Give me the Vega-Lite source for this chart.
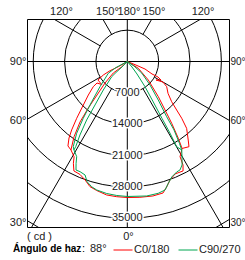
{
  "$schema": "https://vega.github.io/schema/vega-lite/v6.json",
  "width": 202,
  "height": 208,
  "autosize": {"type": "none"},
  "padding": {"left": 27, "top": 19, "right": 16, "bottom": 33},
  "background": "white",
  "config": {"view": {"stroke": "black", "strokeWidth": 1}, "font": "Liberation Sans"},
  "datasets": {
    "rings": [{"r": 7000}, {"r": 14000}, {"r": 21000}, {"r": 28000}, {"r": 35000}, {"r": 42000}],
    "spokes": [
      {"ang": 0, "r0": 0, "r1": 60000}, {"ang": 180, "r0": 0, "r1": 60000},
      {"ang": 90, "r0": 0, "r1": 60000}, {"ang": -90, "r0": 0, "r1": 60000},
      {"ang": 30, "r0": 7000, "r1": 60000}, {"ang": -30, "r0": 7000, "r1": 60000},
      {"ang": 60, "r0": 7000, "r1": 60000}, {"ang": -60, "r0": 7000, "r1": 60000},
      {"ang": 120, "r0": 7000, "r1": 60000}, {"ang": -120, "r0": 7000, "r1": 60000},
      {"ang": 150, "r0": 7000, "r1": 60000}, {"ang": -150, "r0": 7000, "r1": 60000}
    ],
    "ringlab": [
      {"ang": 0, "cd": 7000, "lab": "7000"}, {"ang": 0, "cd": 14000, "lab": "14000"},
      {"ang": 0, "cd": 21000, "lab": "21000"}, {"ang": 0, "cd": 28000, "lab": "28000"},
      {"ang": 0, "cd": 35000, "lab": "35000"}
    ],
    "curves": [
      {"s": "C0/180", "p": "a", "i": 0, "ang": 50, "cd": 0},
      {"s": "C0/180", "p": "a", "i": 2, "ang": 58.3, "cd": 2890},
      {"s": "C0/180", "p": "a", "i": 3, "ang": 48.6, "cd": 6250},
      {"s": "C0/180", "p": "a", "i": 4, "ang": 41.4, "cd": 10470},
      {"s": "C0/180", "p": "a", "i": 5, "ang": 37.9, "cd": 13710},
      {"s": "C0/180", "p": "a", "i": 6, "ang": 35.7, "cd": 16990},
      {"s": "C0/180", "p": "a", "i": 7, "ang": 33.6, "cd": 20580},
      {"s": "C0/180", "p": "a", "i": 8, "ang": 32.2, "cd": 22940},
      {"s": "C0/180", "p": "a", "i": 9, "ang": 29, "cd": 24290},
      {"s": "C0/180", "p": "a", "i": 10, "ang": 28.3, "cd": 26230},
      {"s": "C0/180", "p": "a", "i": 11, "ang": 27, "cd": 27420},
      {"s": "C0/180", "p": "a", "i": 12, "ang": 23, "cd": 27270},
      {"s": "C0/180", "p": "a", "i": 13, "ang": 19.8, "cd": 28120},
      {"s": "C0/180", "p": "a", "i": 14, "ang": 17.4, "cd": 29360},
      {"s": "C0/180", "p": "a", "i": 15, "ang": 15.2, "cd": 30410},
      {"s": "C0/180", "p": "a", "i": 16, "ang": 10.8, "cd": 30560},
      {"s": "C0/180", "p": "a", "i": 17, "ang": 5.3, "cd": 30440},
      {"s": "C0/180", "p": "a", "i": 18, "ang": 0, "cd": 30360},
      {"s": "C0/180", "p": "a", "i": 19, "ang": -4.5, "cd": 30270},
      {"s": "C0/180", "p": "a", "i": 20, "ang": -8.8, "cd": 30150},
      {"s": "C0/180", "p": "a", "i": 21, "ang": -13.3, "cd": 29600},
      {"s": "C0/180", "p": "a", "i": 22, "ang": -16.6, "cd": 29150},
      {"s": "C0/180", "p": "a", "i": 23, "ang": -19.6, "cd": 28080},
      {"s": "C0/180", "p": "a", "i": 24, "ang": -22.7, "cd": 27340},
      {"s": "C0/180", "p": "a", "i": 25, "ang": -26, "cd": 27180},
      {"s": "C0/180", "p": "a", "i": 26, "ang": -27.9, "cd": 25720},
      {"s": "C0/180", "p": "a", "i": 27, "ang": -29.2, "cd": 24350},
      {"s": "C0/180", "p": "a", "i": 28, "ang": -32.5, "cd": 23410},
      {"s": "C0/180", "p": "a", "i": 29, "ang": -35.3, "cd": 20570},
      {"s": "C0/180", "p": "a", "i": 30, "ang": -38, "cd": 17140},
      {"s": "C0/180", "p": "a", "i": 31, "ang": -40, "cd": 13540},
      {"s": "C0/180", "p": "a", "i": 32, "ang": -42.1, "cd": 10080},
      {"s": "C0/180", "p": "a", "i": 33, "ang": -46, "cd": 6910},
      {"s": "C0/180", "p": "a", "i": 34, "ang": -50.6, "cd": 4050},
      {"s": "C0/180", "p": "a", "i": 35, "ang": -46.5, "cd": 1780},
      {"s": "C0/180", "p": "a", "i": 36, "ang": -50, "cd": 0},
      {"s": "C0/180", "p": "b", "i": 0, "ang": 32.2, "cd": 22940},
      {"s": "C0/180", "p": "b", "i": 1, "ang": 35.9, "cd": 23480},
      {"s": "C0/180", "p": "b", "i": 2, "ang": 37.8, "cd": 22190},
      {"s": "C0/180", "p": "b", "i": 3, "ang": 41.6, "cd": 19950},
      {"s": "C0/180", "p": "b", "i": 4, "ang": 43.8, "cd": 17550},
      {"s": "C0/180", "p": "b", "i": 5, "ang": 45.5, "cd": 15450},
      {"s": "C0/180", "p": "b", "i": 6, "ang": 47.8, "cd": 13370},
      {"s": "C0/180", "p": "b", "i": 7, "ang": 52, "cd": 11530},
      {"s": "C0/180", "p": "b", "i": 8, "ang": 57.4, "cd": 10440},
      {"s": "C0/180", "p": "b", "i": 9, "ang": 60.1, "cd": 9190},
      {"s": "C0/180", "p": "b", "i": 10, "ang": 57.2, "cd": 7620},
      {"s": "C0/180", "p": "b", "i": 11, "ang": 61.2, "cd": 8580},
      {"s": "C0/180", "p": "b", "i": 12, "ang": 63.2, "cd": 7680},
      {"s": "C0/180", "p": "b", "i": 13, "ang": 63.2, "cd": 6180},
      {"s": "C0/180", "p": "b", "i": 14, "ang": 67, "cd": 4290},
      {"s": "C0/180", "p": "b", "i": 15, "ang": 67.6, "cd": 2340},
      {"s": "C0/180", "p": "b", "i": 16, "ang": 90, "cd": 0},
      {"s": "C0/180", "p": "b", "i": 17, "ang": -60, "cd": 2320},
      {"s": "C0/180", "p": "b", "i": 18, "ang": -62, "cd": 4370},
      {"s": "C0/180", "p": "b", "i": 19, "ang": -60.6, "cd": 6150},
      {"s": "C0/180", "p": "b", "i": 20, "ang": -57.7, "cd": 7740},
      {"s": "C0/180", "p": "b", "i": 21, "ang": -48, "cd": 7680},
      {"s": "C0/180", "p": "b", "i": 22, "ang": -54.6, "cd": 8290},
      {"s": "C0/180", "p": "b", "i": 23, "ang": -53.5, "cd": 9450},
      {"s": "C0/180", "p": "b", "i": 24, "ang": -49.3, "cd": 11470},
      {"s": "C0/180", "p": "b", "i": 25, "ang": -45.3, "cd": 13810},
      {"s": "C0/180", "p": "b", "i": 26, "ang": -41.7, "cd": 16980},
      {"s": "C0/180", "p": "b", "i": 27, "ang": -39.1, "cd": 19690},
      {"s": "C0/180", "p": "b", "i": 28, "ang": -37.3, "cd": 21470},
      {"s": "C0/180", "p": "b", "i": 29, "ang": -35.1, "cd": 23040},
      {"s": "C0/180", "p": "b", "i": 30, "ang": -32.5, "cd": 23410},
      {"s": "C90/270", "p": "a", "i": 0, "ang": 45, "cd": 0},
      {"s": "C90/270", "p": "a", "i": 1, "ang": 40.5, "cd": 1610},
      {"s": "C90/270", "p": "a", "i": 2, "ang": 37.8, "cd": 3530},
      {"s": "C90/270", "p": "a", "i": 3, "ang": 35.1, "cd": 6870},
      {"s": "C90/270", "p": "a", "i": 4, "ang": 32.7, "cd": 10740},
      {"s": "C90/270", "p": "a", "i": 5, "ang": 31.4, "cd": 14860},
      {"s": "C90/270", "p": "a", "i": 6, "ang": 30.8, "cd": 18590},
      {"s": "C90/270", "p": "a", "i": 7, "ang": 30.1, "cd": 21980},
      {"s": "C90/270", "p": "a", "i": 8, "ang": 31.6, "cd": 23190},
      {"s": "C90/270", "p": "a", "i": 9, "ang": 29.8, "cd": 24570},
      {"s": "C90/270", "p": "a", "i": 10, "ang": 27.9, "cd": 26130},
      {"s": "C90/270", "p": "a", "i": 11, "ang": 25.9, "cd": 26920},
      {"s": "C90/270", "p": "a", "i": 12, "ang": 24.1, "cd": 27010},
      {"s": "C90/270", "p": "a", "i": 13, "ang": 21.2, "cd": 27580},
      {"s": "C90/270", "p": "a", "i": 14, "ang": 18.6, "cd": 28690},
      {"s": "C90/270", "p": "a", "i": 15, "ang": 16.4, "cd": 29890},
      {"s": "C90/270", "p": "a", "i": 16, "ang": 13.2, "cd": 30220},
      {"s": "C90/270", "p": "a", "i": 17, "ang": 8.2, "cd": 30330},
      {"s": "C90/270", "p": "a", "i": 18, "ang": 0, "cd": 30130},
      {"s": "C90/270", "p": "a", "i": 19, "ang": -4.5, "cd": 30000},
      {"s": "C90/270", "p": "a", "i": 20, "ang": -8.9, "cd": 29820},
      {"s": "C90/270", "p": "a", "i": 21, "ang": -13.4, "cd": 29480},
      {"s": "C90/270", "p": "a", "i": 22, "ang": -15.9, "cd": 29060},
      {"s": "C90/270", "p": "a", "i": 23, "ang": -18.5, "cd": 28300},
      {"s": "C90/270", "p": "a", "i": 24, "ang": -20.4, "cd": 27030},
      {"s": "C90/270", "p": "a", "i": 25, "ang": -23.2, "cd": 26760},
      {"s": "C90/270", "p": "a", "i": 26, "ang": -25.3, "cd": 26790},
      {"s": "C90/270", "p": "a", "i": 27, "ang": -26.7, "cd": 25450},
      {"s": "C90/270", "p": "a", "i": 28, "ang": -28, "cd": 24060},
      {"s": "C90/270", "p": "a", "i": 29, "ang": -31.1, "cd": 23060},
      {"s": "C90/270", "p": "a", "i": 30, "ang": -31.2, "cd": 22230},
      {"s": "C90/270", "p": "a", "i": 31, "ang": -32.8, "cd": 19510},
      {"s": "C90/270", "p": "a", "i": 32, "ang": -34.8, "cd": 15890},
      {"s": "C90/270", "p": "a", "i": 33, "ang": -36.6, "cd": 12090},
      {"s": "C90/270", "p": "a", "i": 34, "ang": -40.1, "cd": 8320},
      {"s": "C90/270", "p": "a", "i": 35, "ang": -45.7, "cd": 4860},
      {"s": "C90/270", "p": "a", "i": 36, "ang": -45.8, "cd": 3520},
      {"s": "C90/270", "p": "a", "i": 37, "ang": -44, "cd": 1700},
      {"s": "C90/270", "p": "a", "i": 38, "ang": -45, "cd": 0},
      {"s": "C90/270", "p": "b", "i": 0, "ang": 31.6, "cd": 23190},
      {"s": "C90/270", "p": "b", "i": 1, "ang": 32.5, "cd": 21660},
      {"s": "C90/270", "p": "b", "i": 2, "ang": 34.3, "cd": 18500},
      {"s": "C90/270", "p": "b", "i": 3, "ang": 35.5, "cd": 15140},
      {"s": "C90/270", "p": "b", "i": 4, "ang": 38.8, "cd": 11030},
      {"s": "C90/270", "p": "b", "i": 5, "ang": 44, "cd": 7290},
      {"s": "C90/270", "p": "b", "i": 6, "ang": 51.4, "cd": 4110},
      {"s": "C90/270", "p": "b", "i": 7, "ang": 56, "cd": 1800},
      {"s": "C90/270", "p": "b", "i": 8, "ang": 90, "cd": 0},
      {"s": "C90/270", "p": "b", "i": 9, "ang": -62, "cd": 2860},
      {"s": "C90/270", "p": "b", "i": 10, "ang": -58.2, "cd": 4990},
      {"s": "C90/270", "p": "b", "i": 11, "ang": -47.3, "cd": 8290},
      {"s": "C90/270", "p": "b", "i": 12, "ang": -41.5, "cd": 11990},
      {"s": "C90/270", "p": "b", "i": 13, "ang": -37.8, "cd": 16040},
      {"s": "C90/270", "p": "b", "i": 14, "ang": -35.2, "cd": 19610},
      {"s": "C90/270", "p": "b", "i": 15, "ang": -32.4, "cd": 22510},
      {"s": "C90/270", "p": "b", "i": 16, "ang": -31.1, "cd": 23060}
    ]
  },
  "layer": [
    {
      "data": {"name": "rings"},
      "mark": {"type": "arc", "filled": false, "fill": null, "stroke": "black", "strokeWidth": 1, "theta": 0, "theta2": 6.2832, "clip": true},
      "encoding": {
        "x": {"datum": 0, "type": "quantitative", "scale": {"domain": [-22388, 22701], "nice": false, "zero": false}, "axis": null},
        "y": {"datum": 0, "type": "quantitative", "scale": {"domain": [-36942, 9487], "nice": false, "zero": false}, "axis": null},
        "radius": {"field": "r", "type": "quantitative", "stack": null, "scale": {"type": "linear", "domain": [0, 42000], "range": [0, 188.16], "zero": true}}
      }
    },
    {
      "data": {"name": "spokes"},
      "transform": [
        {"calculate": "datum.r0*sin(datum.ang*PI/180)", "as": "x0"},
        {"calculate": "-datum.r0*cos(datum.ang*PI/180)", "as": "y0"},
        {"calculate": "datum.r1*sin(datum.ang*PI/180)", "as": "x1"},
        {"calculate": "-datum.r1*cos(datum.ang*PI/180)", "as": "y1"}
      ],
      "mark": {"type": "rule", "color": "black", "strokeWidth": 1, "clip": true},
      "encoding": {
        "x": {"field": "x0", "type": "quantitative", "scale": {"domain": [-22388, 22701], "nice": false, "zero": false},
          "axis": {"orient": "top", "values": [-14799, -4531, 268, 5848, 16786], "labelExpr": "datum.value < -10000 ? '120°' : datum.value < -2000 ? '150°' : datum.value < 2000 ? '180°' : datum.value < 10000 ? '150°' : '120°'", "ticks": false, "tickSize": 0, "domain": false, "grid": false, "title": null, "labelPadding": 3, "labelFontSize": 11, "labelFont": "Liberation Sans", "labelColor": "#222", "labelFlush": false, "labelOverlap": false, "labelBound": false}},
        "y": {"field": "y0", "type": "quantitative", "scale": {"domain": [-36942, 9487], "nice": false, "zero": false},
          "axis": {"orient": "left", "values": [0, -13281, -36049], "labelExpr": "datum.value > -5000 ? '90°' : datum.value > -20000 ? '60°' : '30°'", "ticks": false, "tickSize": 0, "domain": false, "grid": false, "title": null, "labelPadding": 1, "labelFontSize": 11, "labelFont": "Liberation Sans", "labelColor": "#222", "labelFlush": false, "labelOverlap": false, "labelBound": false}},
        "x2": {"field": "x1"},
        "y2": {"field": "y1"}
      }
    },
    {
      "data": {"name": "ringlab"},
      "transform": [
        {"calculate": "datum.cd*sin(datum.ang*PI/180)", "as": "x"},
        {"calculate": "-datum.cd*cos(datum.ang*PI/180)", "as": "y"}
      ],
      "mark": {"type": "text", "fontSize": 11, "font": "Liberation Sans", "color": "white", "stroke": "white", "strokeWidth": 3, "baseline": "middle", "align": "center"},
      "encoding": {
        "x": {"field": "x", "type": "quantitative",
          "axis": {"orient": "bottom", "values": [-19710, 150], "labelExpr": "datum.value < -10000 ? '( cd )' : '0°'", "ticks": false, "tickSize": 0, "domain": false, "grid": false, "title": null, "labelPadding": 3, "labelFontSize": 11, "labelFont": "Liberation Sans", "labelColor": "#222", "labelFlush": false, "labelOverlap": false, "labelBound": false}},
        "y": {"field": "y", "type": "quantitative",
          "axis": {"orient": "right", "values": [0, -13281, -36049], "labelExpr": "datum.value > -5000 ? '90°' : datum.value > -20000 ? '60°' : '30°'", "ticks": false, "tickSize": 0, "domain": false, "grid": false, "title": null, "labelPadding": 1, "labelFontSize": 10, "labelFont": "Liberation Sans", "labelColor": "#222", "labelFlush": false, "labelOverlap": false, "labelBound": false}},
        "text": {"field": "lab"}
      }
    },
    {
      "data": {"name": "ringlab"},
      "transform": [
        {"calculate": "datum.cd*sin(datum.ang*PI/180)", "as": "x"},
        {"calculate": "-datum.cd*cos(datum.ang*PI/180)", "as": "y"}
      ],
      "mark": {"type": "text", "fontSize": 11, "font": "Liberation Sans", "color": "#222", "baseline": "middle", "align": "center"},
      "encoding": {
        "x": {"field": "x", "type": "quantitative", "axis": null},
        "y": {"field": "y", "type": "quantitative", "axis": null},
        "text": {"field": "lab"}
      }
    },
    {
      "data": {"name": "curves"},
      "transform": [
        {"calculate": "datum.cd*sin(datum.ang*PI/180)", "as": "x"},
        {"calculate": "-datum.cd*cos(datum.ang*PI/180)", "as": "y"}
      ],
      "mark": {"type": "line", "strokeWidth": 1, "clip": true},
      "encoding": {
        "x": {"field": "x", "type": "quantitative", "axis": null},
        "y": {"field": "y", "type": "quantitative", "axis": null},
        "color": {"field": "s", "type": "nominal", "scale": {"domain": ["C0/180", "C90/270"], "range": ["#ff0000", "#00a651"]},
          "legend": {"orient": "none", "legendX": 86, "legendY": 221, "direction": "horizontal", "title": null, "symbolType": "stroke", "symbolSize": 361, "symbolStrokeWidth": 1, "labelFontSize": 11, "labelFont": "Liberation Sans", "labelColor": "#222", "labelOffset": 1, "columnPadding": 6, "padding": 0}},
        "detail": {"field": "p", "type": "nominal"},
        "order": {"field": "i", "type": "quantitative"}
      }
    },
    {
      "data": {"values": [{"t": "Ángulo de haz"}]},
      "mark": {"type": "text", "fontSize": 10, "font": "Liberation Sans", "fontWeight": "bold", "color": "black", "align": "left", "baseline": "middle"},
      "encoding": {
        "x": {"datum": -25513, "type": "quantitative", "axis": null},
        "y": {"datum": -41964, "type": "quantitative", "axis": null},
        "text": {"field": "t"}
      }
    },
    {
      "data": {"values": [{"t": ":"}]},
      "mark": {"type": "text", "fontSize": 11, "font": "Liberation Sans", "color": "black", "align": "left", "baseline": "middle"},
      "encoding": {
        "x": {"datum": -10112, "type": "quantitative", "axis": null},
        "y": {"datum": -41964, "type": "quantitative", "axis": null},
        "text": {"field": "t"}
      }
    },
    {
      "data": {"values": [{"t": "88°"}]},
      "mark": {"type": "text", "fontSize": 11, "font": "Liberation Sans", "color": "#222", "align": "left", "baseline": "middle"},
      "encoding": {
        "x": {"datum": -8326, "type": "quantitative", "axis": null},
        "y": {"datum": -41964, "type": "quantitative", "axis": null},
        "text": {"field": "t"}
      }
    }
  ],
  "resolve": {"axis": {"x": "independent", "y": "independent"}}
}
